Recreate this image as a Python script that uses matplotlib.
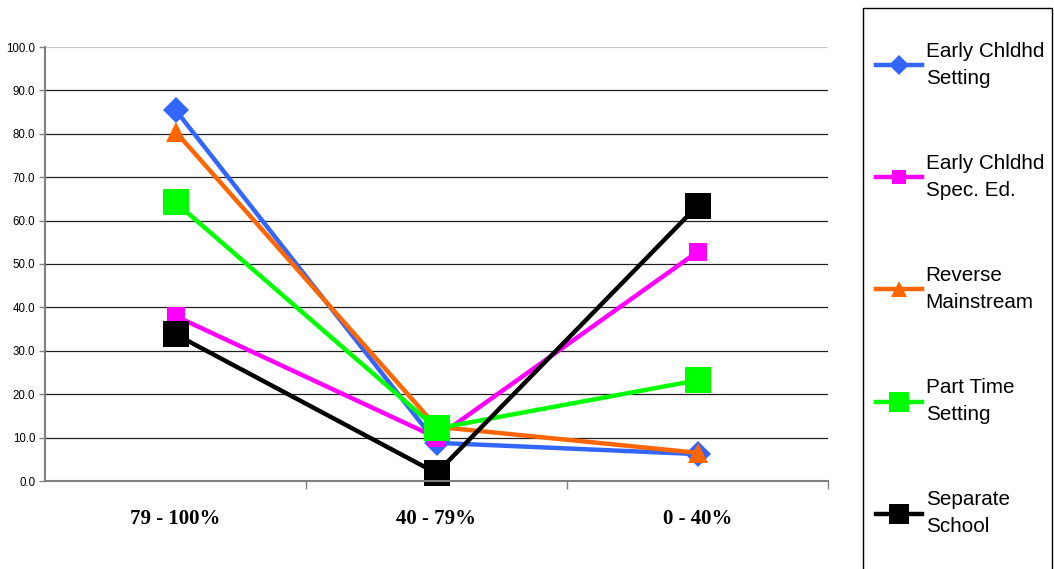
import matplotlib.pyplot as plt
from matplotlib.patches import Rectangle
from matplotlib.ticker import FixedLocator

# placement categories and share of children (%) per setting
categories = ['79 - 100%', '40 - 79%', '0 - 40%']
early_setting = [85.5, 8.8, 6.2]
early_spec_ed = [38.0, 10.0, 52.8]
reverse_main = [80.5, 12.5, 6.5]
part_time = [64.2, 12.1, 23.2]
separate_school = [33.8, 1.8, 63.4]

series = [
    ('Early Chldhd\nSetting', early_setting, '#3366FF', 'D', 13),
    ('Early Chldhd\nSpec. Ed.', early_spec_ed, '#FF00FF', 's', 13),
    ('Reverse\nMainstream', reverse_main, '#FF6600', '^', 15),
    ('Part Time\nSetting', part_time, '#00FF00', 's', 19),
    ('Separate\nSchool', separate_school, '#000000', 's', 19),
]

fig = plt.figure(figsize=(10.54, 5.69), dpi=100)
ax = fig.add_axes([45/1054, 1 - 481/569, (828 - 45)/1054, (481 - 47)/569])

x = range(len(categories))
handles = []
for label, vals, color, marker, ms in series:
    h, = ax.plot(x, vals, color=color, lw=3.2, marker=marker, markersize=ms,
                 markeredgewidth=0, label=label, clip_on=False)
    handles.append(h)

ax.set_xlim(-0.5, 2.5)
ax.set_ylim(0, 100)
ax.set_yticks([i * 10 for i in range(11)])
ax.set_yticklabels(['%.1f' % (i * 10) for i in range(11)], fontsize=8.3,
                   family='Liberation Sans')
ax.set_xticks(list(x))
ax.set_xticklabels(categories, fontsize=15, fontweight='bold',
                   family='Liberation Serif')
ax.xaxis.set_minor_locator(FixedLocator([0.5, 1.5, 2.5]))
ax.tick_params(axis='x', which='major', length=0, pad=20)
ax.tick_params(axis='x', which='minor', length=6, width=1, color='#808080')
ax.tick_params(axis='y', length=4, width=1, color='#808080', pad=3)

ax.grid(axis='y', color='#202020', lw=0.9)
ax.get_ygridlines()[-1].set_color('#c8c8c8')
ax.set_axisbelow(True)
for side in ('top', 'right'):
    ax.spines[side].set_visible(False)
for side in ('left', 'bottom'):
    ax.spines[side].set_color('#808080')
    ax.spines[side].set_linewidth(1.5)

# legend box runs off the bottom edge
fig.patches.append(Rectangle((863/1054, -0.05), (1052 - 863)/1054, 1.05 - 8/569,
                             transform=fig.transFigure, fill=False,
                             edgecolor='black', lw=1))
leg = fig.legend(handles=handles, loc='upper left',
                 bbox_to_anchor=(876/1054, 1 - 42/569),
                 frameon=False, prop={'family': 'Liberation Sans', 'size': 14.9},
                 labelspacing=3.18, handlelength=2.2, handletextpad=0.2,
                 markerscale=0.75, borderaxespad=0, borderpad=0)
for t in leg.get_texts():
    t.set_linespacing(1.55)

fig.savefig('out.png', dpi=100)
